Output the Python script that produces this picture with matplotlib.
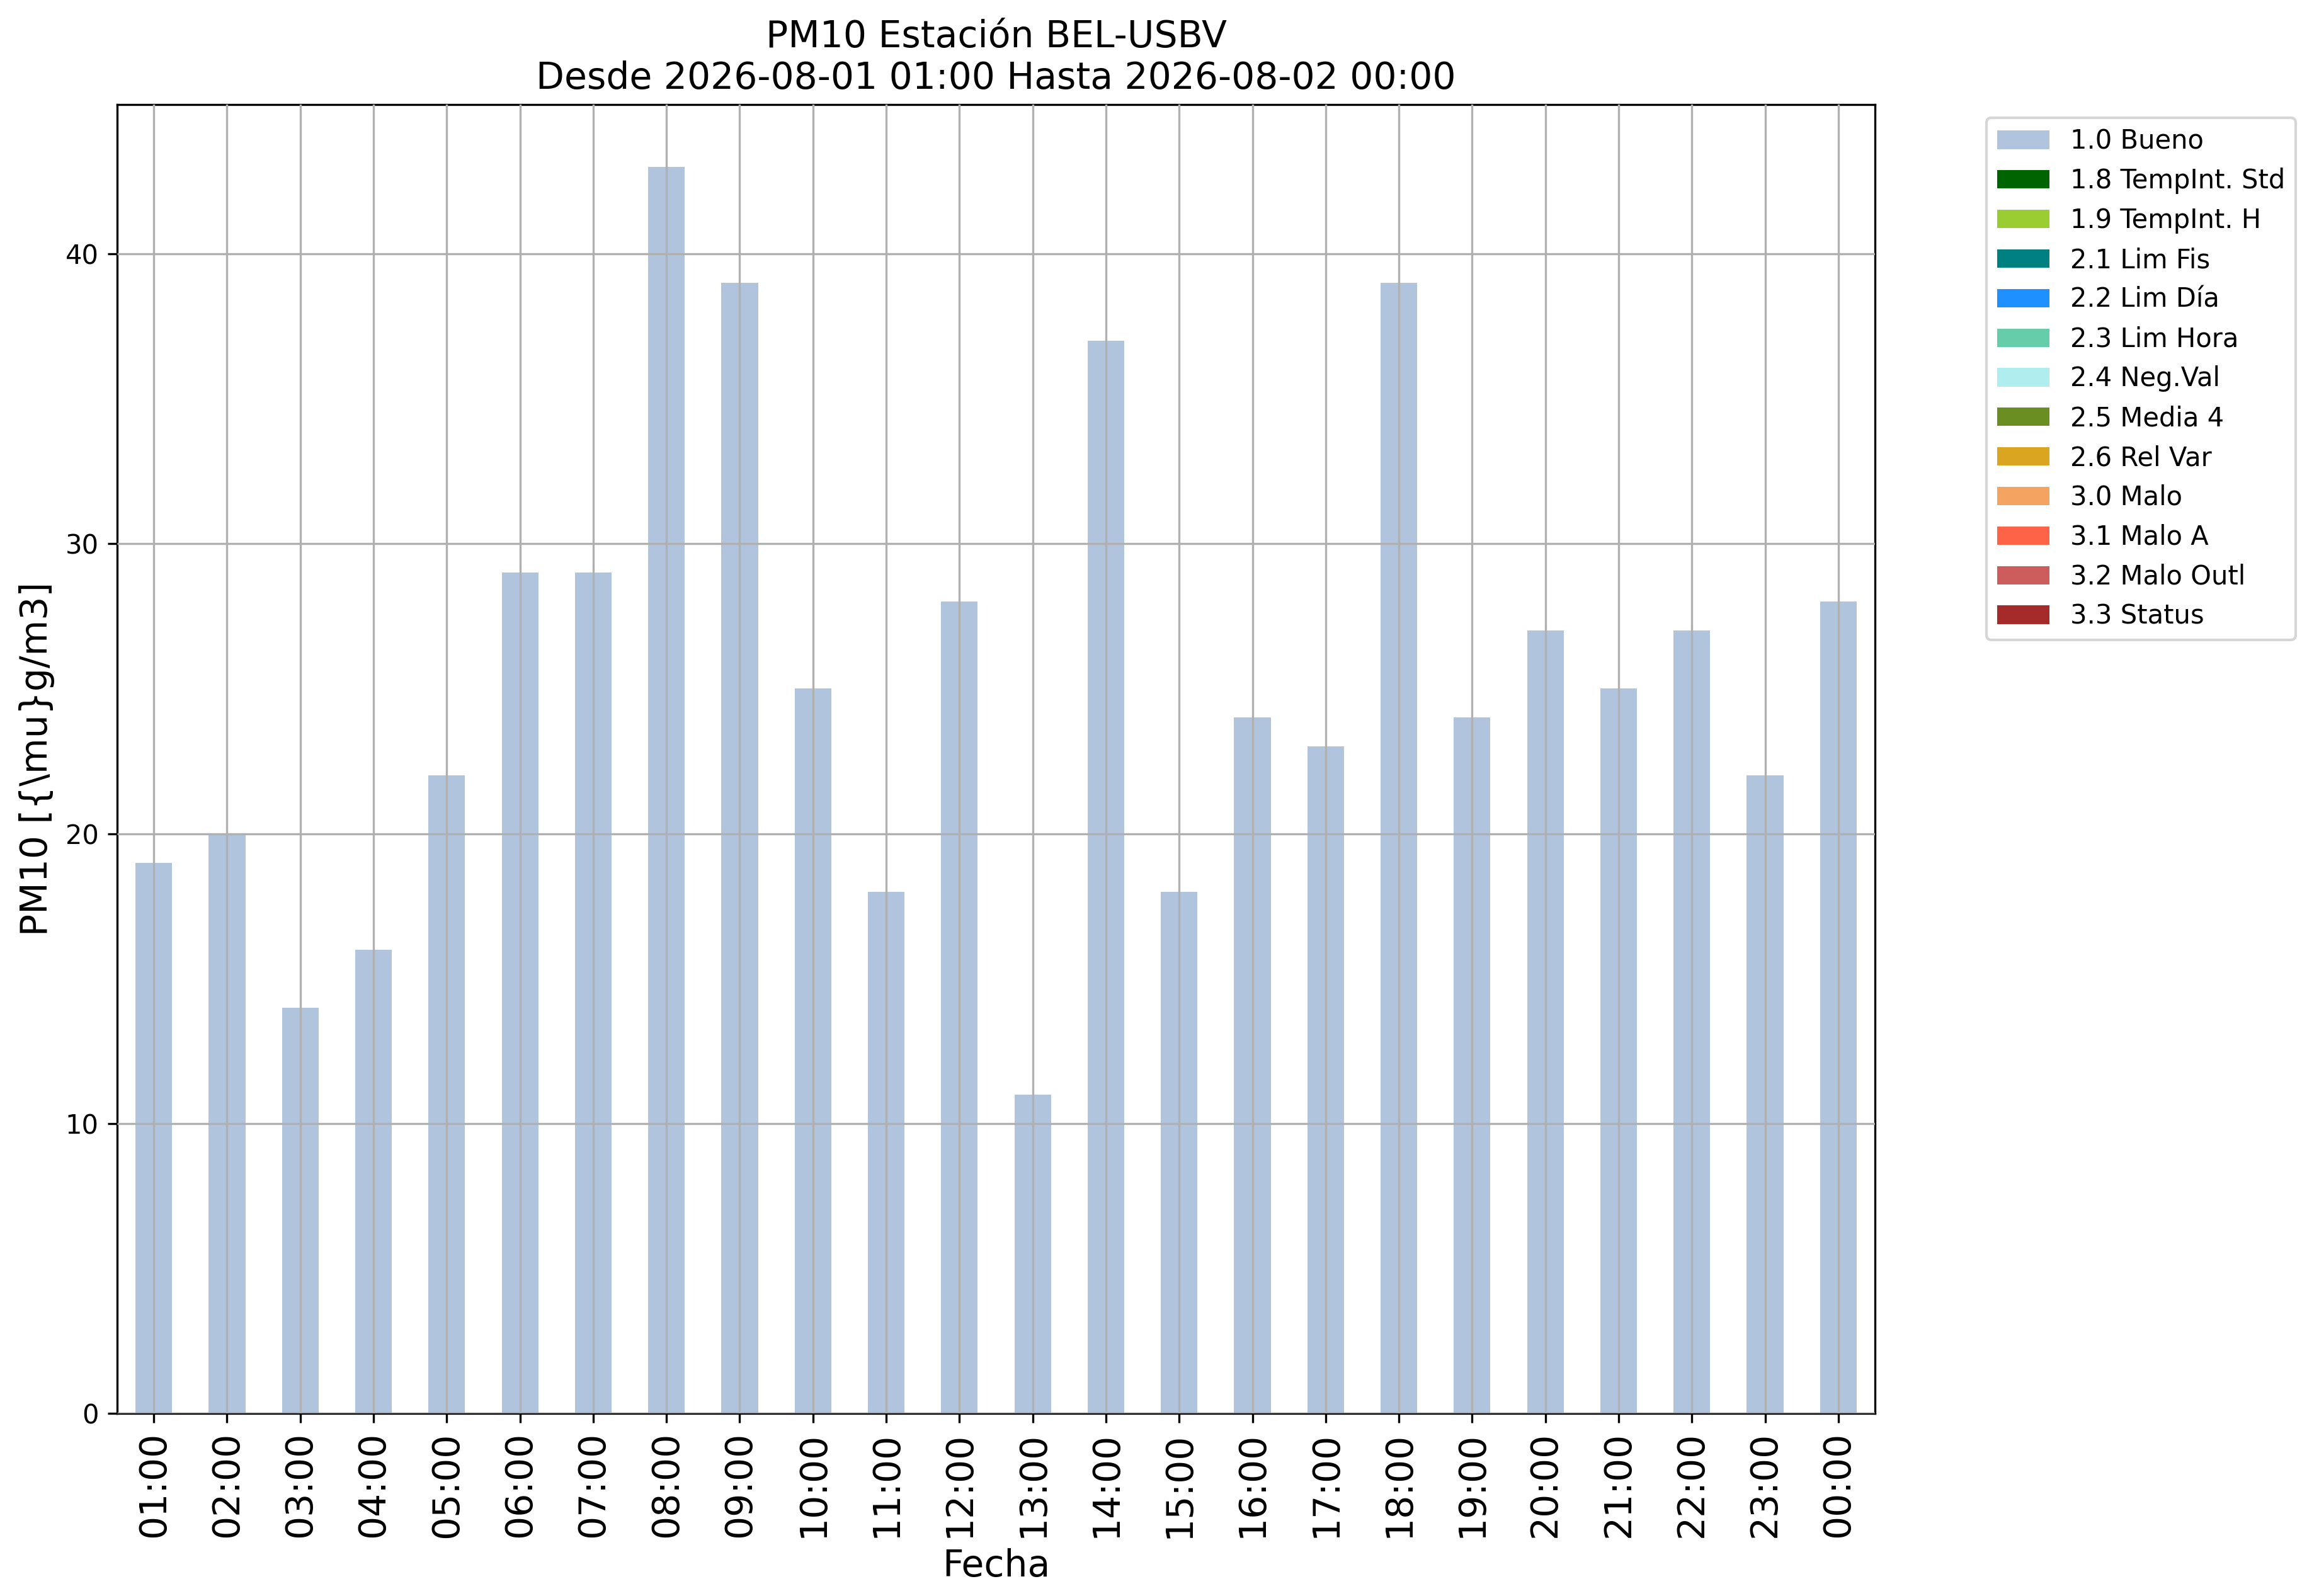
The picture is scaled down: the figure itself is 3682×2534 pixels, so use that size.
import matplotlib
matplotlib.use("Agg")
import matplotlib.pyplot as plt
from matplotlib.ticker import MultipleLocator
import numpy as np

hours = ["01:00", "02:00", "03:00", "04:00", "05:00", "06:00", "07:00", "08:00",
         "09:00", "10:00", "11:00", "12:00", "13:00", "14:00", "15:00", "16:00",
         "17:00", "18:00", "19:00", "20:00", "21:00", "22:00", "23:00", "00:00"]
bueno = [19, 20, 14, 16, 22, 29, 29, 43, 39, 25, 18, 28, 11, 37, 18, 24,
         23, 39, 24, 27, 25, 27, 22, 28]

categories = ["1.0 Bueno", "1.8 TempInt. Std", "1.9 TempInt. H", "2.1 Lim Fis",
              "2.2 Lim Día", "2.3 Lim Hora", "2.4 Neg.Val", "2.5 Media 4",
              "2.6 Rel Var", "3.0 Malo", "3.1 Malo A", "3.2 Malo Outl", "3.3 Status"]
colors = ["lightsteelblue", "darkgreen", "yellowgreen", "teal", "dodgerblue",
          "mediumaquamarine", "paleturquoise", "olivedrab", "goldenrod",
          "sandybrown", "tomato", "indianred", "brown"]

# values per category (only "Bueno" has data, others zero)
series = [bueno] + [[0] * len(hours) for _ in categories[1:]]

fig = plt.figure(figsize=(3682 / 300, 2534 / 300), dpi=300)
ax = fig.add_axes([186 / 3682, 1 - 2244 / 2534, (2977 - 186) / 3682, (2244 - 166) / 2534])

x = np.arange(len(hours))
bottom = np.zeros(len(hours))
for name, col, vals in zip(categories, colors, series):
    vals = np.asarray(vals, dtype=float)
    ax.bar(x, vals, width=0.5, bottom=bottom, color=col, label=name)
    bottom += vals

ax.set_xlim(-0.5, len(hours) - 0.5)
ax.set_ylim(0, bottom.max() * 1.05)
ax.yaxis.set_major_locator(MultipleLocator(10))
ax.set_xticks(x)
ax.set_xticklabels(hours, rotation=90, fontsize=14)
ax.tick_params(axis="y", labelsize=10)
ax.grid(True)
ax.set_axisbelow(False)

ax.set_xlabel("Fecha", fontsize=14)
ax.set_ylabel(r"PM10 [{\mu}g/m3]", fontsize=14)
ax.set_title("PM10 Estación BEL-USBV\nDesde 2026-08-01 01:00 Hasta 2026-08-02 00:00", fontsize=14)

ax.legend(loc="upper left", bbox_to_anchor=(1.056, 1), fontsize=10)

fig.savefig("out.png", dpi=300)
